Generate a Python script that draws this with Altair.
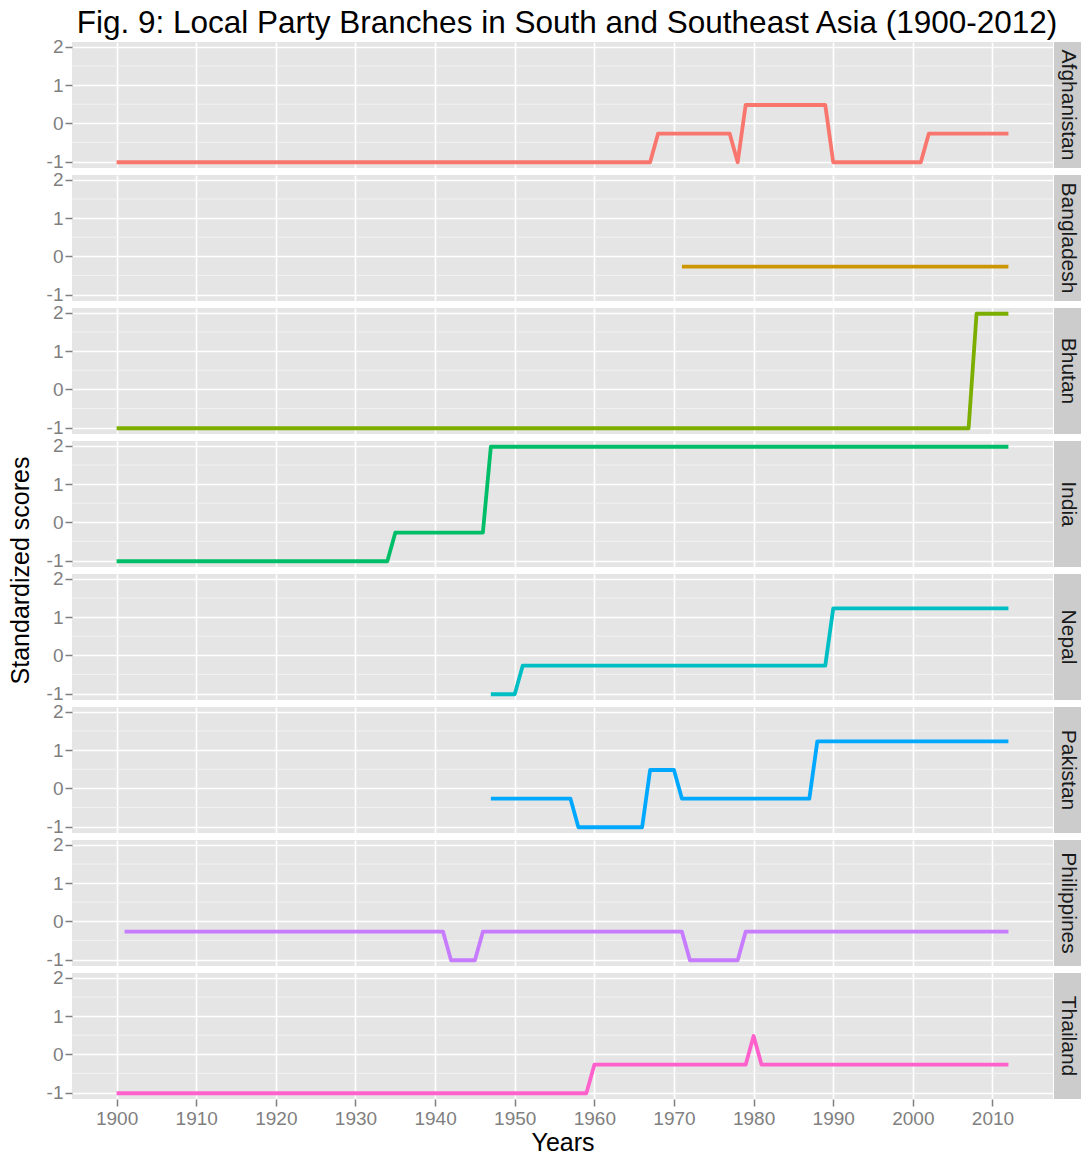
import altair as alt
import pandas as pd

FONT = "Liberation Sans"

# ---------------- data ----------------
countries = ["Afghanistan", "Bangladesh", "Bhutan", "India",
             "Nepal", "Pakistan", "Philippines", "Thailand"]
colors = ["#F8766D", "#CD9600", "#7CAE00", "#00BE67",
          "#00BFC4", "#00A9FF", "#C77CFF", "#FF61CC"]

afghanistan_years = [1900, 1967, 1968, 1977, 1978, 1979, 1989, 1990, 2001, 2002, 2012]
afghanistan_scores = [-1.02, -1.02, -0.27, -0.27, -1.02, 0.48, 0.48, -1.02, -1.02, -0.27, -0.27]

bangladesh_years = [1971, 2012]
bangladesh_scores = [-0.27, -0.27]

bhutan_years = [1900, 2007, 2008, 2012]
bhutan_scores = [-1.02, -1.02, 1.98, 1.98]

india_years = [1900, 1934, 1935, 1946, 1947, 2012]
india_scores = [-1.02, -1.02, -0.27, -0.27, 1.98, 1.98]

nepal_years = [1947, 1950, 1951, 1989, 1990, 2012]
nepal_scores = [-1.02, -1.02, -0.27, -0.27, 1.23, 1.23]

pakistan_years = [1947, 1957, 1958, 1966, 1967, 1970, 1971, 1987, 1988, 2012]
pakistan_scores = [-0.27, -0.27, -1.02, -1.02, 0.48, 0.48, -0.27, -0.27, 1.23, 1.23]

philippines_years = [1901, 1941, 1942, 1945, 1946, 1971, 1972, 1978, 1979, 2012]
philippines_scores = [-0.27, -0.27, -1.02, -1.02, -0.27, -0.27, -1.02, -1.02, -0.27, -0.27]

thailand_years = [1900, 1959, 1960, 1979, 1980, 1981, 2012]
thailand_scores = [-1.02, -1.02, -0.27, -0.27, 0.48, -0.27, -0.27]

series_years = [afghanistan_years, bangladesh_years, bhutan_years, india_years,
                nepal_years, pakistan_years, philippines_years, thailand_years]
series_scores = [afghanistan_scores, bangladesh_scores, bhutan_scores, india_scores,
                 nepal_scores, pakistan_scores, philippines_scores, thailand_scores]

x_tick_values = [1900, 1910, 1920, 1930, 1940, 1950, 1960, 1970, 1980, 1990, 2000, 2010]
y_tick_values = [-1, 0, 1, 2]
y_minor_values = [-0.5, 0.5, 1.5]

X_DOMAIN = [1894.4, 2017.6]
Y_DOMAIN = [-1.17, 2.13]

TITLE = "Fig. 9: Local Party Branches in South and Southeast Asia (1900-2012)"
Y_TITLE = "Standardized scores"

# ---------------- layout ----------------
PANEL_W = 981
PANEL_H = 126
GAP = 7
STRIP_W = 27
YTITLE_X = -51

xscale = alt.Scale(domain=X_DOMAIN, nice=False, zero=False)
yscale = alt.Scale(domain=Y_DOMAIN, nice=False, zero=False)


def make_panel(i):
    last = i == len(countries) - 1
    df = pd.DataFrame({"Year": series_years[i], "Score": series_scores[i]})
    if last:
        xaxis = alt.Axis(values=x_tick_values, labelExpr="'' + datum.value",
                         title="Years", grid=True, labels=True, ticks=True)
    else:
        xaxis = alt.Axis(values=x_tick_values, title=None, grid=True,
                         labels=False, ticks=False)
    yaxis = alt.Axis(values=y_tick_values, labelExpr="'' + datum.value",
                     title=None, grid=True)

    minor = alt.Chart(pd.DataFrame({"Score": y_minor_values})).mark_rule(
        color="#F2F2F2", strokeWidth=1
    ).encode(y=alt.Y("Score:Q", scale=yscale, axis=yaxis))

    line = alt.Chart(df).mark_line(
        color=colors[i], strokeWidth=3.8, strokeJoin="round"
    ).encode(
        x=alt.X("Year:Q", scale=xscale, axis=xaxis),
        y=alt.Y("Score:Q", scale=yscale, axis=yaxis),
    )

    lab = alt.Data(values=[{"label": countries[i]}])
    rect = alt.Chart(lab).mark_rect(color="#CCCCCC").encode(
        x=alt.value(PANEL_W + 1), x2=alt.value(PANEL_W + 1 + STRIP_W),
        y=alt.value(0), y2=alt.value(PANEL_H)
    )
    txt = alt.Chart(lab).mark_text(
        angle=90, font=FONT, fontSize=21, color="#1A1A1A",
        align="center", baseline="middle"
    ).encode(x=alt.value(PANEL_W + 1 + STRIP_W / 2), y=alt.value(PANEL_H / 2),
             text="label:N")

    layers = [minor, line, rect, txt]
    if countries[i] == "India":
        yt = alt.Chart(alt.Data(values=[{"t": Y_TITLE}])).mark_text(
            angle=270, font=FONT, fontSize=25, color="black",
            align="center", baseline="middle"
        ).encode(x=alt.value(YTITLE_X), y=alt.value(PANEL_H + GAP / 2), text="t:N")
        layers.append(yt)

    return alt.layer(*layers).properties(
        width=PANEL_W, height=PANEL_H,
        view=alt.ViewBackground(fill="#E5E5E5", strokeWidth=0),
    )


rows = [make_panel(i) for i in range(len(countries))]

chart = alt.vconcat(*rows, spacing=GAP, bounds="flush").properties(
    title=alt.TitleParams(
        text=TITLE, font=FONT, fontSize=31.5, fontWeight="normal",
        color="black", anchor="middle", offset=-2, dx=22
    ),
    padding=0,
).configure_view(
    strokeWidth=0
).configure_axis(
    labelFont=FONT, labelFontSize=19, labelColor="#7F7F7F",
    tickColor="#7F7F7F", tickSize=7, tickWidth=1.5,
    domain=False, gridColor="#FFFFFF", gridWidth=1.6,
    labelPadding=2, titleFont=FONT, titleFontSize=25,
    titleColor="black", titleFontWeight="normal", titlePadding=2,
).configure_axisX(labelPadding=3)

chart.save("out.html", embed_options={"renderer": "svg", "actions": False})
